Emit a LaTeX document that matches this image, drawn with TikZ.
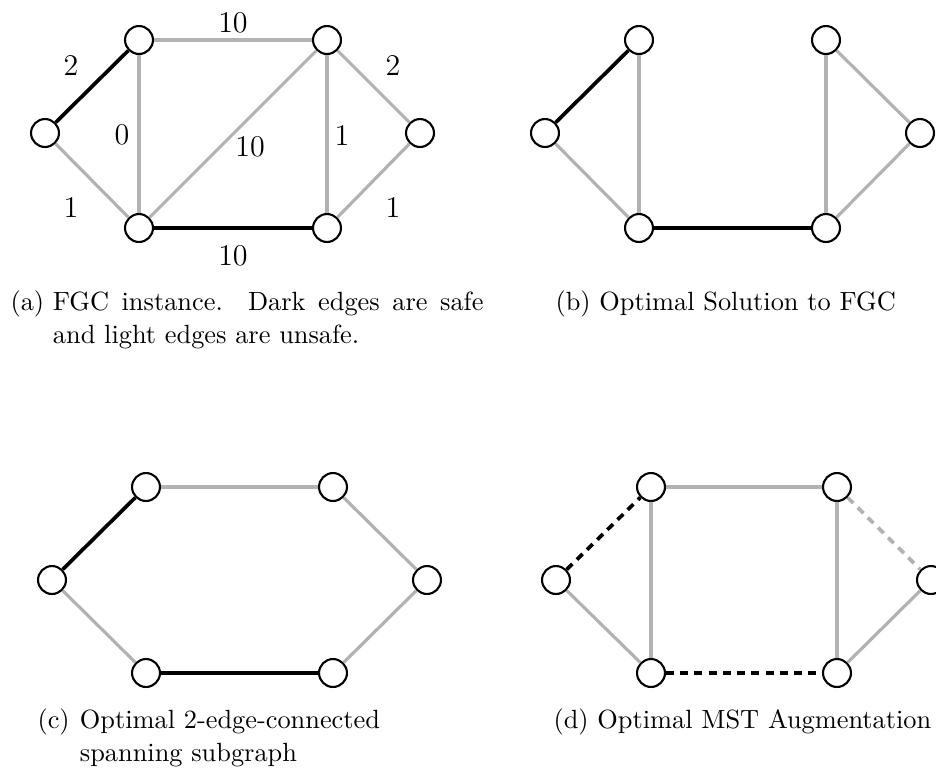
\documentclass[tikz,border=0pt]{standalone}
\begin{document}
\begin{tikzpicture}[x=0.3795pt,y=-0.3795pt,
  vtx/.style={circle,draw=black,line width=0.8pt,fill=white,minimum size=10.6pt,inner sep=0pt},
  safe/.style={draw=black,line width=1.4pt},
  unsafe/.style={draw=black!30,line width=1.2pt},
  safedash/.style={draw=black,line width=1.4pt,dash pattern=on 3pt off 2.4pt},
  unsafedash/.style={draw=black!30,line width=1.4pt,dash pattern=on 3pt off 2.4pt},
  lbl/.style={font=\fontsize{11.4}{13}\selectfont,inner sep=0pt},
  captxt/.style={anchor=base west,inner sep=0pt,font=\normalsize}]
\useasboundingbox (0,0) rectangle (936,780);

% ---------- (a) ----------
\node[vtx] (a1) at (45,133) {};
\node[vtx] (a2) at (139,40) {};
\node[vtx] (a3) at (139,228) {};
\node[vtx] (a4) at (327,40) {};
\node[vtx] (a5) at (327,228) {};
\node[vtx] (a6) at (420,133) {};
\draw[unsafe] (a2) -- (a4);
\draw[unsafe] (a2) -- (a3);
\draw[unsafe] (a3) -- (a4);
\draw[unsafe] (a4) -- (a5);
\draw[unsafe] (a4) -- (a6);
\draw[unsafe] (a6) -- (a5);
\draw[unsafe] (a1) -- (a3);
\draw[safe] (a1) -- (a2);
\draw[safe] (a3) -- (a5);
\node[lbl] (la1) at (233,23) {10};
\node[lbl] (la2) at (71,65) {2};
\node[lbl] (la3) at (122,135) {0};
\node[lbl] (la4) at (250,147) {10};
\node[lbl] (la5) at (342,135) {1};
\node[lbl] (la6) at (393,65) {2};
\node[lbl] (la7) at (71,207) {1};
\node[lbl] (la8) at (393,207) {1};
\node[lbl] (la9) at (233,256) {10};

% ---------- (b) ----------
\node[vtx] (b1) at (545,133) {};
\node[vtx] (b2) at (639,40) {};
\node[vtx] (b3) at (639,228) {};
\node[vtx] (b4) at (826,40) {};
\node[vtx] (b5) at (826,228) {};
\node[vtx] (b6) at (920,133) {};
\draw[unsafe] (b2) -- (b3);
\draw[unsafe] (b1) -- (b3);
\draw[unsafe] (b4) -- (b5);
\draw[unsafe] (b4) -- (b6);
\draw[unsafe] (b6) -- (b5);
\draw[safe] (b1) -- (b2);
\draw[safe] (b3) -- (b5);

% ---------- (c) ----------
\node[vtx] (c1) at (52,580) {};
\node[vtx] (c2) at (146,487) {};
\node[vtx] (c3) at (146,673) {};
\node[vtx] (c4) at (333,487) {};
\node[vtx] (c5) at (333,673) {};
\node[vtx] (c6) at (427,580) {};
\draw[unsafe] (c2) -- (c4);
\draw[unsafe] (c1) -- (c3);
\draw[unsafe] (c4) -- (c6);
\draw[unsafe] (c6) -- (c5);
\draw[safe] (c1) -- (c2);
\draw[safe] (c3) -- (c5);

% ---------- (d) ----------
\node[vtx] (d1) at (556,580) {};
\node[vtx] (d2) at (651,487) {};
\node[vtx] (d3) at (651,673) {};
\node[vtx] (d4) at (837,487) {};
\node[vtx] (d5) at (837,673) {};
\node[vtx] (d6) at (931,580) {};
\draw[unsafe] (d2) -- (d4);
\draw[unsafe] (d2) -- (d3);
\draw[unsafe] (d1) -- (d3);
\draw[unsafe] (d4) -- (d5);
\draw[unsafe] (d6) -- (d5);
\draw[unsafedash] (d4) -- (d6);
\draw[safedash] (d1) -- (d2);
\draw[safedash] (d3) -- (d5);

% ---------- captions ----------
\node[captxt] (capa) at (10,310) {(a)};
\node[captxt] (capa1) at (52.4,310) {\makebox[163.4pt][s]{FGC instance.\ \ Dark edges are safe}};
\node[captxt] (capa2) at (52.4,343) {and light edges are unsafe.};
\node[captxt] (capb) at (555,310) {(b) Optimal Solution to FGC};
\node[captxt] (capc) at (37,728) {(c)};
\node[captxt] (capc1) at (79.4,728) {Optimal 2-edge-connected};
\node[captxt] (capc2) at (79.4,761) {spanning subgraph};
\node[captxt] (capd) at (553,728) {(d) Optimal MST Augmentation};
\end{tikzpicture}
\end{document}
